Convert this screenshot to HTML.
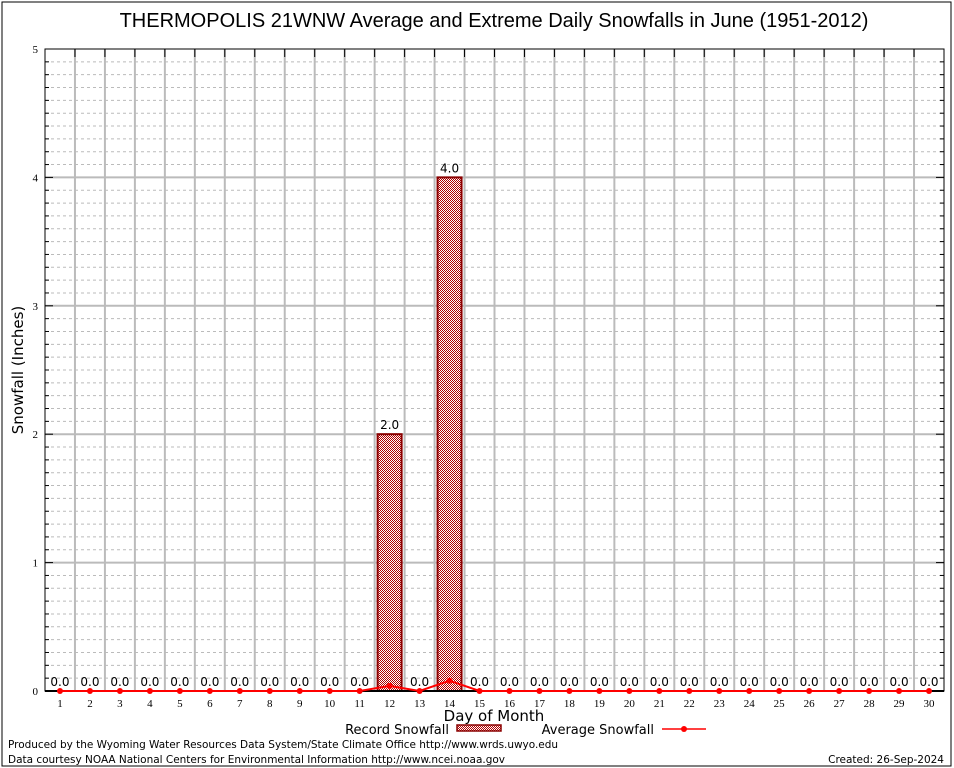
<!DOCTYPE html>
<html><head><meta charset="utf-8"><style>
body{margin:0;background:#fff}
svg{display:block;font-family:"DejaVu Sans","Liberation Sans",sans-serif}
</style></head><body>
<svg id="c" width="954" height="768">
<defs>
<pattern id="hatch" width="2" height="2" patternUnits="userSpaceOnUse">
<rect width="2" height="2" fill="#fff"/><rect width="1" height="1" fill="#b00000"/><rect x="1" y="1" width="1" height="1" fill="#b00000"/>
</pattern>
</defs>
<rect x="2" y="2" width="949" height="764" fill="none" stroke="#000"/>
<text x="494" y="27" font-size="20" text-anchor="middle" font-family="Liberation Sans, sans-serif">THERMOPOLIS 21WNW Average and Extreme Daily Snowfalls in June (1951-2012)</text>
<g id="grid"></g>
<g id="marks"></g>
<text transform="translate(23,370) rotate(-90)" font-size="15" text-anchor="middle">Snowfall (Inches)</text>
<text x="494" y="721" font-size="15" text-anchor="middle">Day of Month</text>
<g>
<text x="449" y="734" font-size="13" text-anchor="end">Record Snowfall</text>
<rect x="457" y="725" width="44" height="6" fill="url(#hatch)" stroke="#8b0000" stroke-width="1.5"/>
</g>
<g>
<text x="654" y="734" font-size="13" text-anchor="end">Average Snowfall</text>
<line x1="662" y1="729" x2="706" y2="729" stroke="#f00" stroke-width="1.5"/>
<circle cx="684" cy="729" r="3" fill="#f00"/>
</g>
<text x="8" y="748" font-size="10.5" textLength="550">Produced by the Wyoming Water Resources Data System/State Climate Office http://www.wrds.uwyo.edu</text>
<text x="8" y="763" font-size="10.5" textLength="497">Data courtesy NOAA National Centers for Environmental Information http://www.ncei.noaa.gov</text>
<text x="944" y="763" font-size="10.5" text-anchor="end">Created: 26-Sep-2024</text>
</svg>
<script>
const days=[1,2,3,4,5,6,7,8,9,10,11,12,13,14,15,16,17,18,19,20,21,22,23,24,25,26,27,28,29,30];
const recordSnow=[0,0,0,0,0,0,0,0,0,0,0,2.0,0,4.0,0,0,0,0,0,0,0,0,0,0,0,0,0,0,0,0];
const avgSnow=[0,0,0,0,0,0,0,0,0,0,0,0.04,0,0.08,0,0,0,0,0,0,0,0,0,0,0,0,0,0,0,0];
const yTicks=[0,1,2,3,4,5];
const L=45,R=944,T=49,B=691,yMax=5;
const ns="http://www.w3.org/2000/svg";
const x=d=>L+(d-0.5)*(R-L)/30;
const y=v=>B-v/yMax*(B-T);
function mk(p,t,a){const e=document.createElementNS(ns,t);for(const k in a)e.setAttribute(k,a[k]);p.appendChild(e);return e;}
const g=document.getElementById('grid'),m=document.getElementById('marks');
for(let i=1;i<yMax*10;i++){if(i%10===0)continue;const l=mk(g,'line',{x1:L,x2:R,y1:y(i/10),y2:y(i/10),stroke:'#bbb','stroke-dasharray':'3,3'});


mk(g,'line',{x1:L,x2:L+4,y1:y(i/10),y2:y(i/10),stroke:'#000'});mk(g,'line',{x1:R,x2:R-4,y1:y(i/10),y2:y(i/10),stroke:'#000'});}
for(let d=1;d<30;d++){const xx=(x(d)+x(d+1))/2;const l=mk(g,'line',{x1:xx,x2:xx,y1:T,y2:B,stroke:'#bbb','stroke-width':2});


mk(g,'line',{x1:xx,x2:xx,y1:T,y2:T+8,stroke:'#000'});}
yTicks.forEach(v=>{if(v>0&&v<yMax){const l=mk(g,'line',{x1:L,x2:R,y1:y(v),y2:y(v),stroke:'#bbb','stroke-width':2});

}
mk(g,'line',{x1:L,x2:L+8,y1:y(v),y2:y(v),stroke:'#000'});mk(g,'line',{x1:R,x2:R-8,y1:y(v),y2:y(v),stroke:'#000'});
const t=mk(g,'text',{x:L-7,y:y(v)+4,'font-size':11,'text-anchor':'end','font-family':'Liberation Serif, serif'});t.textContent=v;

});
const fr=mk(g,'rect',{x:L,y:T,width:R-L,height:B-T,fill:'none',stroke:'#000'});


days.forEach((d,i)=>{
 const v=recordSnow[i];
 if(v>0){const r=mk(m,'rect',{x:x(d)-12,y:y(v),width:24,height:B-y(v),fill:'url(#hatch)',stroke:'#8b0000','stroke-width':2});
 
 }
 const t=mk(m,'text',{x:x(d),y:y(v)-5,'font-size':12,'text-anchor':'middle'});t.textContent=v.toFixed(1);
 
 
 const xt=mk(m,'text',{x:x(d),y:B+16,'font-size':11,'text-anchor':'middle','font-family':'Liberation Serif, serif'});xt.textContent=d;
 
 
});
mk(m,'line',{x1:L,x2:R,y1:B,y2:B,stroke:'#000','stroke-width':2});
const pl=mk(m,'polyline',{points:days.map((d,i)=>x(d)+','+y(avgSnow[i])).join(' '),fill:'none',stroke:'#f00','stroke-width':2});


days.forEach((d,i)=>{const c=mk(m,'circle',{cx:x(d),cy:y(avgSnow[i]),r:3,fill:'#f00'});

});
</script>
</body></html>
